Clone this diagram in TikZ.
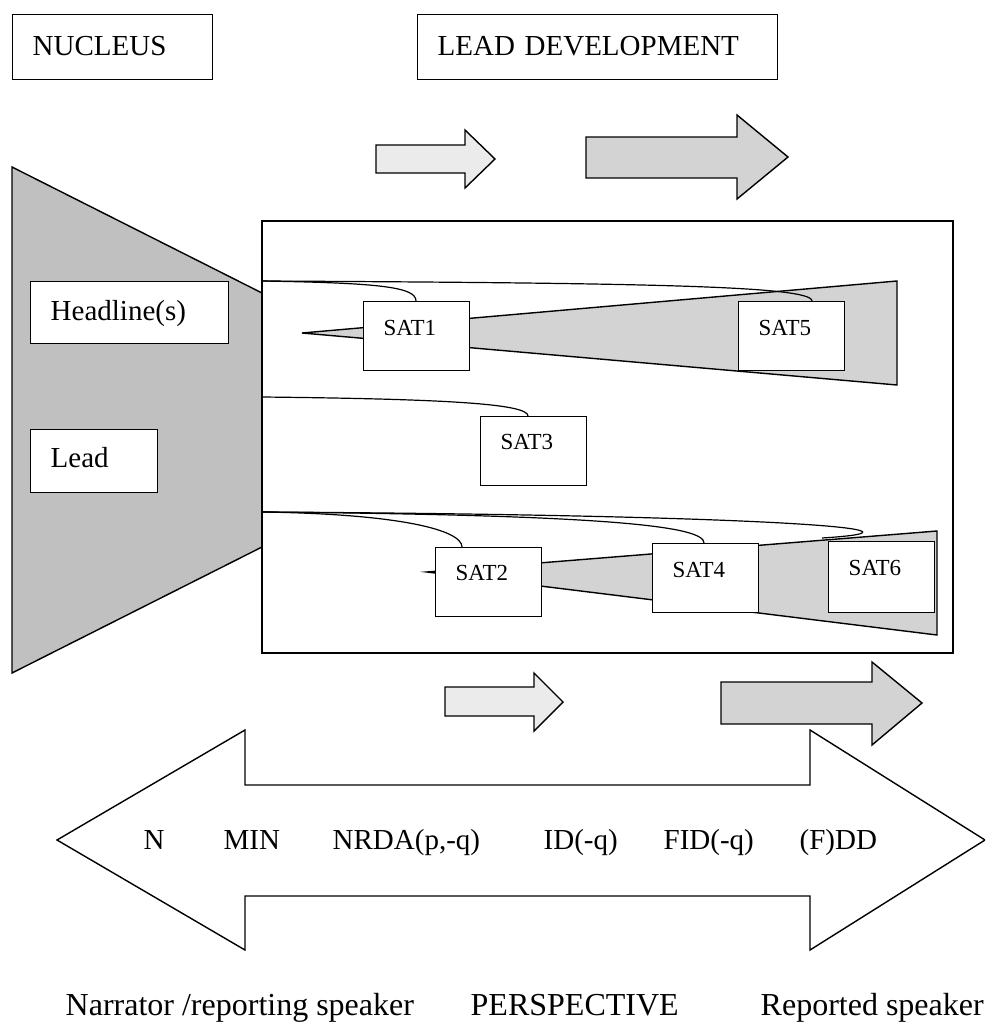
\documentclass[tikz,border=0pt]{standalone}
\usepackage{fontspec}
\setmainfont{Liberation Serif}

\definecolor{nucleusgray}{HTML}{C0C0C0}
\definecolor{wedgegray}{HTML}{D3D3D3}
\definecolor{paleflow}{HTML}{EBEBEB}

\begin{document}
\begin{tikzpicture}[
    x=1pt, y=-1pt,
    line width=1.4pt,
    box/.style={draw, fill=white, anchor=north west, inner xsep=20pt, inner ysep=0pt, align=left, font=\fontsize{29}{34}\selectfont},
    satbox/.style={box, text width=66pt, font=\fontsize{23}{28}\selectfont},
    tag/.style={anchor=base west, inner sep=0pt, font=\fontsize{29}{34}\selectfont},
    caption/.style={anchor=base west, inner sep=0pt, font=\fontsize{32}{38}\selectfont},
    flow/.style={draw, fill=#1},
    wedge/.style={draw, fill=wedgegray},
    link/.style={line width=1.2pt},
]
\useasboundingbox (0,0) rectangle (985,1022);
\fill[white] (0,0) rectangle (985,1022);
\clip (0,0) rectangle (985,1022);

% Headings
\node[box, text width=160pt, text height=41pt, text depth=24pt] (nucleus) at (12,14) {NUCLEUS};
\node[box, text width=320pt, text height=41pt, text depth=24pt] (leaddev) at (417,14) {LEAD DEVELOPMENT};

% Flow arrows above the frame
\draw[flow=paleflow] (376,145) -- (465,145) -- (465,130) -- (495,159) -- (465,188) -- (465,173) -- (376,173) -- cycle;
\draw[flow=wedgegray] (586,137) -- (737,137) -- (737,115) -- (788,157) -- (737,199) -- (737,178) -- (586,178) -- cycle;

% Nucleus wedge and the development frame
\draw[fill=nucleusgray] (12,167) -- (262,293) -- (262,547) -- (12,673) -- cycle;
\draw (262,221) rectangle (953,653);

\node[box, text width=158pt, text height=39pt, text depth=23pt] (headline) at (30,281) {Headline(s)};
\node[box, text width=87pt, text height=38pt, text depth=25pt] (lead) at (30,429) {Lead};

% Satellite wedges
\draw[wedge] (302,333) -- (897,281) -- (897,385) -- cycle;
\draw[wedge] (427,572) -- (937,531) -- (937,635) -- cycle;

\coordinate (upper) at (262,281);
\coordinate (middle) at (262,397);
\coordinate (lower) at (262,512);

% Links from the nucleus
\draw[link] (upper) .. controls (380,283) and (416,287) .. (416,301);
\draw[link] (upper) .. controls (650,283) and (812,286) .. (812,301);
\draw[link] (middle) .. controls (450,399) and (528,404) .. (528,416);
\draw[link] (lower) .. controls (400,514) and (462,530) .. (462,547);
\draw[link] (lower) .. controls (620,515) and (704,527) .. (704,543);
\draw[link] (lower) .. controls (780,515) and (950,530) .. (822,538);

% Satellites
\node[satbox, text height=34pt, text depth=35pt] (sat1) at (363,301) {SAT1};
\node[satbox, text height=34pt, text depth=35pt] (sat5) at (738,301) {SAT5};
\node[satbox, text height=33pt, text depth=36pt] (sat3) at (480,416) {SAT3};
\node[satbox, text height=33pt, text depth=36pt] (sat2) at (435,547) {SAT2};
\node[satbox, text height=34pt, text depth=35pt] (sat4) at (652,543) {SAT4};
\node[satbox, text height=34pt, text depth=37pt] (sat6) at (828,541) {SAT6};

% Flow arrows below the frame
\draw[flow=paleflow] (445,687) -- (534,687) -- (534,673) -- (563,702) -- (534,731) -- (534,716) -- (445,716) -- cycle;
\draw[flow=wedgegray] (721,682) -- (872,682) -- (872,662) -- (922,703) -- (872,745) -- (872,724) -- (721,724) -- cycle;

% Perspective scale
\draw[fill=white] (57,840) -- (245,730) -- (245,785) -- (810,785) -- (810,730) -- (985,840) -- (810,950) -- (810,896) -- (245,896) -- (245,950) -- cycle;
\node[tag] (n) at (143,849) {N};
\node[tag] (min) at (223,849) {MIN};
\node[tag] (nrda) at (332,849) {NRDA(p,-q)};
\node[tag] (id) at (543,849) {ID(-q)};
\node[tag] (fid) at (663,849) {FID(-q)};
\node[tag] (fdd) at (799,849) {(F)DD};

\node[caption] (narrator) at (65,1015) {Narrator /reporting speaker};
\node[caption] (perspective) at (470,1015) {PERSPECTIVE};
\node[caption] (reported) at (760,1015) {Reported speaker};

\end{tikzpicture}
\end{document}
